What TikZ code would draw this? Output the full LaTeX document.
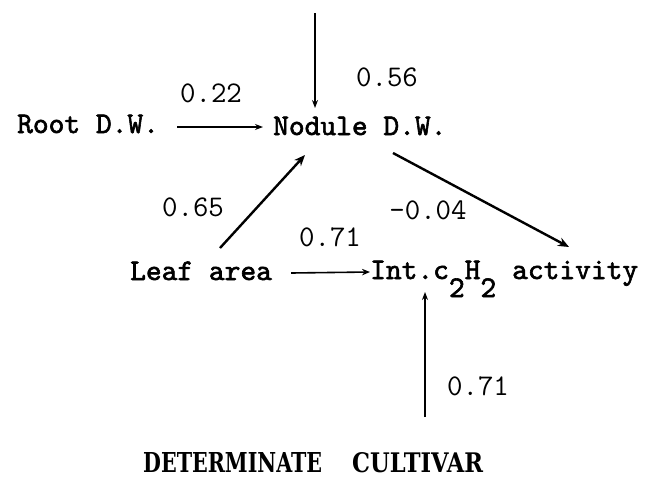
\documentclass[tikz,border=0pt]{standalone}
\usepackage{fontspec}
\newfontfamily\capfont{DejaVu Serif}
\newfontfamily\lbltt[FakeBold=2]{lmmono10-regular.otf}
\usetikzlibrary{arrows.meta,calc}
\tikzset{
  lbl/.style={anchor=base west, inner sep=0pt, font=\fontsize{30}{36}\selectfont\lbltt},
  num/.style={inner sep=0pt, font=\fontsize{30}{36}\selectfont\ttfamily},
  captext/.style={anchor=south west, inner sep=0pt, font=\capfont\bfseries},
  thinarrow/.style={line width=1.2pt, -{Stealth[length=8pt,width=6pt]}},
  midarrow/.style={line width=1.6pt, -{Stealth[length=8pt,width=6.5pt]}},
  thickarrow/.style={line width=2.4pt, -{Stealth[length=11pt,width=9pt]}},
}
\begin{document}
\begin{tikzpicture}[x=1pt,y=-1pt]
\useasboundingbox (0,0) rectangle (653,485);
% variables
\node[lbl] (root) at (17,133) {Root D.W.};
\node[lbl] (nod) at (273,135) {Nodule D.W.};
\node[lbl] (leaf) at (130,280) {Leaf area};
\node[lbl] (int) at (370,279) {Int.c\raisebox{-18pt}{2}H\raisebox{-18pt}{2}};
\node[lbl] (act) at (512,279) {activity};
% coefficients
\node[num] (n022) at (211,93) {0.22};
\node[num] (n056) at (387,77) {0.56};
\node[num] (n065) at (193,207) {0.65};
\node[num] (n004) at (428,210) {-0.04};
\node[num] (n071a) at (330,237) {0.71};
\node[num] (n071b) at (478,386) {0.71};
% caption
\node[captext] (det) at (143,473) {\resizebox{179pt}{20pt}{DETERMINATE}};
\node[captext] (cult) at (352,473) {\resizebox{131pt}{20pt}{CULTIVAR}};
% free ends
\coordinate (topsrc) at (315,13);
\coordinate (botsrc) at (425,417);
% connectors
\draw[thinarrow] (topsrc) -- ($(nod.base west)+(42pt,27pt)$);
\draw[thinarrow] ($(root.base east)+(18pt,6pt)$) -- ($(nod.base west)+(-10pt,8pt)$);
\draw[thickarrow] ($(leaf.base west)+(90pt,32pt)$) -- ($(nod.base west)+(32pt,-20pt)$);
\draw[thickarrow] ($(nod.base west)+(120pt,-18pt)$) -- ($(act.base west)+(57pt,32pt)$);
\draw[midarrow] ($(leaf.base east)+(19pt,7pt)$) -- ($(int.base west)+(0pt,7pt)$);
\draw[thinarrow] (botsrc) -- ($(int.base west)+(55pt,-13pt)$);
\end{tikzpicture}
\end{document}
